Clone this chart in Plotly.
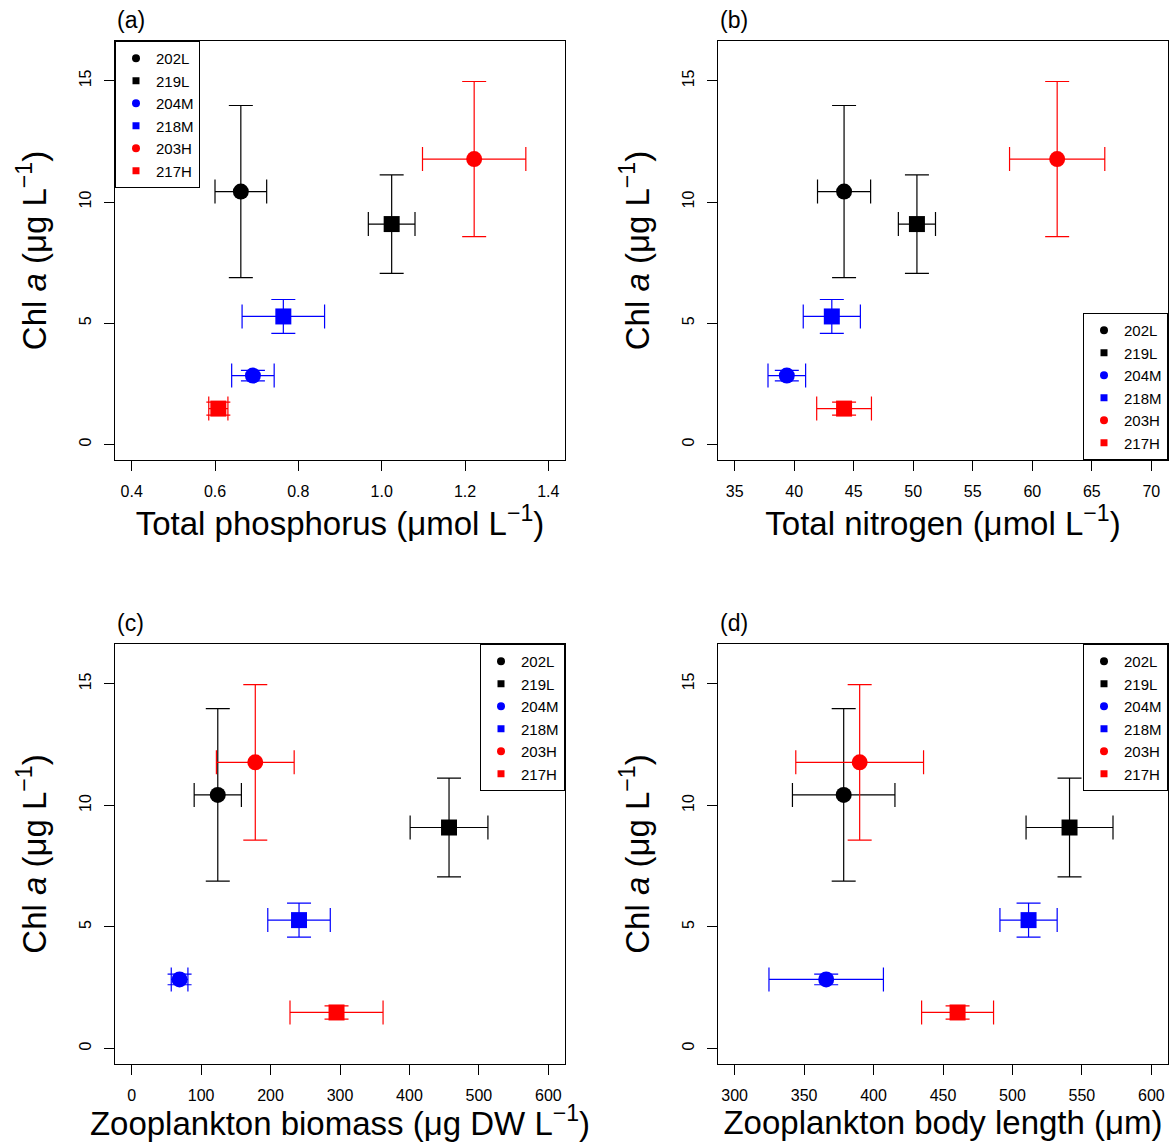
import plotly.graph_objects as go

# ---------------- data ----------------
sites = ["202L", "219L", "204M", "218M", "203H", "217H"]
site_colors = ["black", "black", "blue", "blue", "red", "red"]
site_symbols = ["circle", "square", "circle", "square", "circle", "square"]

chl = [10.43, 9.09, 2.84, 5.28, 11.77, 1.48]
chl_se = [3.55, 2.03, 0.22, 0.70, 3.20, 0.27]

tp = [0.662, 1.024, 0.691, 0.764, 1.222, 0.608]
tp_se = [0.062, 0.056, 0.051, 0.099, 0.124, 0.023]

tn = [44.19, 50.31, 39.38, 43.16, 62.09, 44.19]
tn_se = [2.23, 1.56, 1.58, 2.40, 4.00, 2.30]

biomass = [124.0, 457.0, 69.0, 241.0, 178.0, 295.0]
biomass_se = [34.0, 56.0, 12.0, 45.0, 56.0, 67.0]

body_len = [378.5, 541.1, 365.9, 511.6, 390.0, 460.5]
body_len_se = [36.9, 31.3, 41.2, 20.6, 46.0, 25.9]

panel_labels = ["(a)", "(b)", "(c)", "(d)"]
x_titles = [
    "Total phosphorus (μmol L<sup>−1</sup>)",
    "Total nitrogen (μmol L<sup>−1</sup>)",
    "Zooplankton biomass (μg DW L<sup>−1</sup>)",
    "Zooplankton body length (μm)",
]
y_title = "Chl <i>a</i> (μg L<sup>−1</sup>)"
x_ranges = [[0.36, 1.44], [33.6, 71.4], [-24, 624], [288, 612]]
x_dticks = [0.2, 5, 100, 50]
x_tick0 = [0.4, 35, 0, 300]
x_fmt = [".1f", "", "", ""]
y_range = [-0.64, 16.64]

xs = [tp, tn, biomass, body_len]
xes = [tp_se, tn_se, biomass_se, body_len_se]

# ---------------- layout geometry ----------------
W, H = 1173, 1142
FONT = "Liberation Sans, Arial, Helvetica, sans-serif"
box_x = [(115, 565), (718, 1168), (115, 565), (718, 1168)]
box_y = [(41, 460), (41, 460), (644, 1064), (644, 1064)]

legend_pos = [
    dict(x=115 / W, y=1 - 41 / H, xanchor="left", yanchor="top"),
    dict(x=1168 / W, y=1 - 460 / H, xanchor="right", yanchor="bottom"),
    dict(x=565 / W, y=1 - 644 / H, xanchor="right", yanchor="top"),
    dict(x=1168 / W, y=1 - 644 / H, xanchor="right", yanchor="top"),
]

fig = go.Figure()

for p in range(4):
    suffix = "" if p == 0 else str(p + 1)
    xa = "x" + suffix
    ya = "y" + suffix
    leg = "legend" + suffix
    for i, s in enumerate(sites):
        fig.add_trace(go.Scatter(
            x=[xs[p][i]], y=[chl[i]], mode="markers", name=s,
            xaxis=xa, yaxis=ya, showlegend=False,
            marker=dict(color=site_colors[i], symbol=site_symbols[i], size=16),
            error_x=dict(type="data", array=[xes[p][i]], color=site_colors[i],
                         thickness=1.2, width=12),
            error_y=dict(type="data", array=[chl_se[i]], color=site_colors[i],
                         thickness=1.2, width=12),
        ))
    # legend entries (small symbols as in the original)
    for i, s in enumerate(sites):
        fig.add_trace(go.Scatter(
            x=[None], y=[None], mode="markers", name=s,
            xaxis=xa, yaxis=ya, showlegend=True, legend=leg,
            marker=dict(color=site_colors[i], symbol=site_symbols[i],
                        size=8 if site_symbols[i] == "circle" else 7),
        ))

layout = dict(
    width=W, height=H,
    margin=dict(l=0, r=0, t=0, b=0),
    paper_bgcolor="white", plot_bgcolor="white",
    font=dict(family=FONT, color="black", size=15),
    showlegend=True,
)

annotations = []
for p in range(4):
    suffix = "" if p == 0 else str(p + 1)
    x0, x1 = box_x[p]
    y0, y1 = box_y[p]
    axis_common = dict(
        showgrid=False, zeroline=False, showline=True, mirror=True,
        linecolor="black", linewidth=1, ticks="outside", ticklen=10,
        tickwidth=1, tickcolor="black",
        tickfont=dict(family=FONT, size=16, color="black"),
    )
    layout["xaxis" + suffix] = dict(
        axis_common,
        domain=[x0 / W, x1 / W],
        range=x_ranges[p], tickmode="linear", tick0=x_tick0[p], dtick=x_dticks[p],
        tickformat=x_fmt[p], ticklabelstandoff=7,
        anchor="y" + suffix,
        title=dict(text=x_titles[p], font=dict(family=FONT, size=33, color="black"),
                   standoff=2),
    )
    layout["yaxis" + suffix] = dict(
        axis_common,
        domain=[1 - y1 / H, 1 - y0 / H],
        range=y_range, tickmode="linear", tick0=0, dtick=5,
        tickangle=-90, ticklabelstandoff=7,
        anchor="x" + suffix,
        title=dict(text=y_title, font=dict(family=FONT, size=33, color="black"),
                   standoff=20),
    )
    layout["legend" + suffix] = dict(
        legend_pos[p],
        bordercolor="black", borderwidth=1, bgcolor="white",
        font=dict(family=FONT, size=15, color="black"),
        tracegroupgap=0, itemwidth=30,
    )
    annotations.append(dict(
        text=panel_labels[p], xref="paper", yref="paper",
        x=x0 / W, y=1 - (y0 - 6) / H, xanchor="left", yanchor="bottom",
        showarrow=False, font=dict(family=FONT, size=23, color="black"),
    ))

layout["annotations"] = annotations
fig.update_layout(**layout)

fig.write_html("out.html")
